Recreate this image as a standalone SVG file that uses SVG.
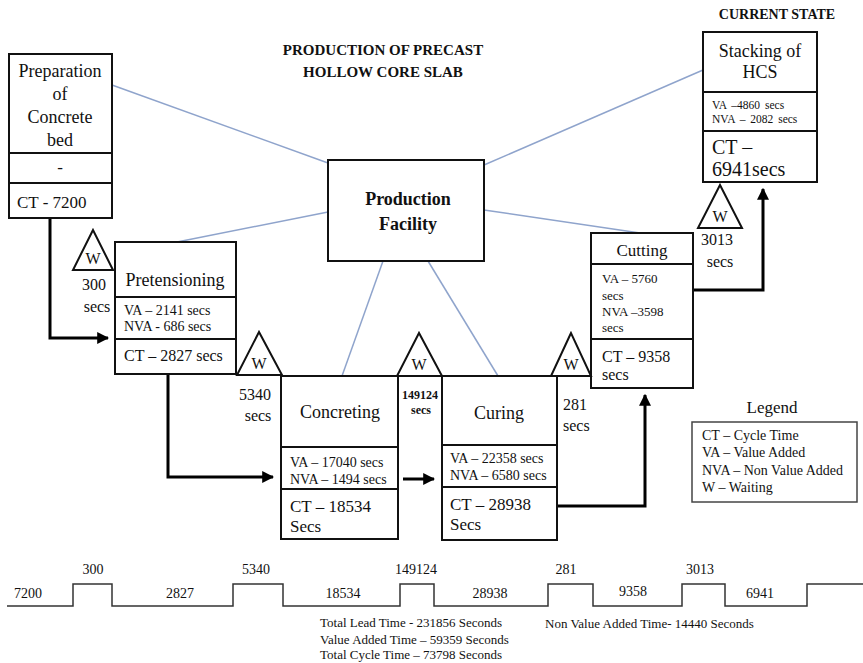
<svg xmlns="http://www.w3.org/2000/svg" width="863" height="663" viewBox="0 0 863 663">
  <style>
    text { font-family: "Liberation Serif", "Times New Roman", serif; fill: #111; }
    .box { fill: #fff; stroke: #111; stroke-width: 2; }
    .div { stroke: #111; stroke-width: 2; }
    .tri { fill: #fff; stroke: #111; stroke-width: 2; stroke-linejoin: miter; }
    .link { stroke: #8fa4cc; stroke-width: 1.5; fill: none; }
    .flow { stroke: #000; stroke-width: 3; fill: none; }
    .t18 { font-size: 18px; }
    .t17 { font-size: 17px; }
    .t16 { font-size: 16px; }
    .t14 { font-size: 14px; }
    .t13 { font-size: 13px; }
    .t11 { font-size: 11.5px; word-spacing: 2px; }
    .c { text-anchor: middle; }
    .b { font-weight: bold; }
  </style>
  <defs>
    <marker id="arr" viewBox="0 0 10 10" refX="9" refY="5" markerWidth="4" markerHeight="4" orient="auto" markerUnits="strokeWidth">
      <path d="M0 0 L10 5 L0 10 Z" fill="#000"/>
    </marker>
  </defs>

  <rect width="863" height="663" fill="#fff"/>

  <!-- title -->
  <g id="title">
    <text class="b c" x="383" y="55" font-size="15">PRODUCTION  OF PRECAST</text>
    <text class="b c" x="383" y="77" font-size="15">HOLLOW  CORE SLAB</text>
    <text class="b c" x="777" y="19" font-size="14">CURRENT STATE</text>
  </g>

  <!-- links from the production facility -->
  <g id="connectors">
    <line class="link" x1="112" y1="85" x2="328" y2="163"/>
    <line class="link" x1="328" y1="212" x2="177" y2="242"/>
    <line class="link" x1="383" y1="261" x2="342" y2="376"/>
    <line class="link" x1="428" y1="261" x2="498" y2="376"/>
    <line class="link" x1="484" y1="210" x2="640" y2="233"/>
    <line class="link" x1="484" y1="165" x2="703" y2="70"/>
    <!-- material flow -->
    <path class="flow" d="M50 218 V338 H108" marker-end="url(#arr)"/>
    <path class="flow" d="M168 374 V477 H273" marker-end="url(#arr)"/>
    <path class="flow" d="M403 479 H434" marker-end="url(#arr)"/>
    <path class="flow" d="M557 506 H645 V395" marker-end="url(#arr)"/>
    <path class="flow" d="M693 290 H763 V189" marker-end="url(#arr)"/>
    <line class="div" x1="236" y1="375" x2="282" y2="375"/>
  </g>

  <!-- production facility -->
  <g id="facility">
    <rect class="box" x="328" y="160" width="156" height="101"/>
    <text class="b c t18" x="408" y="205">Production</text>
    <text class="b c t18" x="408" y="230">Facility</text>
  </g>

  <!-- process boxes -->
  <g id="preparation">
    <rect class="box" x="9" y="54" width="103" height="164"/>
    <line class="div" x1="9" y1="153" x2="112" y2="153"/>
    <line class="div" x1="9" y1="183" x2="112" y2="183"/>
    <text class="c t18" x="60" y="77">Preparation</text>
    <text class="c t18" x="60" y="100">of</text>
    <text class="c t18" x="60" y="123">Concrete</text>
    <text class="c t18" x="60" y="146">bed</text>
    <text class="c t17" x="60" y="173">-</text>
    <text class="t17" x="17" y="208">CT - 7200</text>
  </g>

  <g id="pretensioning">
    <rect class="box" x="115" y="242" width="121" height="132"/>
    <line class="div" x1="115" y1="297" x2="236" y2="297"/>
    <line class="div" x1="115" y1="339" x2="236" y2="339"/>
    <text class="c t18" x="175" y="286">Pretensioning</text>
    <text class="t14" x="124" y="315">VA – 2141 secs</text>
    <text class="t14" x="124" y="331">NVA -  686 secs</text>
    <text class="t16" x="124" y="361">CT – 2827 secs</text>
  </g>

  <g id="concreting">
    <rect class="box" x="281" y="376" width="117" height="163"/>
    <line class="div" x1="281" y1="447" x2="398" y2="447"/>
    <line class="div" x1="281" y1="489" x2="398" y2="489"/>
    <text class="c t18" x="340" y="418">Concreting</text>
    <text class="t14" x="290" y="467">VA – 17040 secs</text>
    <text class="t14" x="290" y="484">NVA – 1494 secs</text>
    <text class="t17" x="290" y="512">CT – 18534</text>
    <text class="t17" x="290" y="532">Secs</text>
  </g>

  <g id="curing">
    <rect class="box" x="442" y="376" width="115" height="164"/>
    <line class="div" x1="442" y1="445" x2="557" y2="445"/>
    <line class="div" x1="442" y1="487" x2="557" y2="487"/>
    <text class="c t18" x="499" y="419">Curing</text>
    <text class="t14" x="450" y="463">VA – 22358 secs</text>
    <text class="t14" x="450" y="480">NVA – 6580 secs</text>
    <text class="t17" x="450" y="510">CT – 28938</text>
    <text class="t17" x="450" y="530">Secs</text>
  </g>

  <g id="cutting">
    <rect class="box" x="591" y="233" width="102" height="155"/>
    <line class="div" x1="591" y1="264" x2="693" y2="264"/>
    <line class="div" x1="591" y1="339" x2="693" y2="339"/>
    <text class="c t17" x="642" y="256">Cutting</text>
    <text class="t13" x="602" y="283">VA – 5760</text>
    <text class="t13" x="602" y="300">secs</text>
    <text class="t13" x="602" y="316">NVA –3598</text>
    <text class="t13" x="602" y="332">secs</text>
    <text class="t16" x="602" y="362">CT – 9358</text>
    <text class="t16" x="602" y="380">secs</text>
  </g>

  <g id="stacking">
    <rect class="box" x="703" y="32" width="114" height="150"/>
    <line class="div" x1="703" y1="92" x2="817" y2="92"/>
    <line class="div" x1="703" y1="131" x2="817" y2="131"/>
    <text class="c t18" x="760" y="57">Stacking  of</text>
    <text class="c t18" x="760" y="78">HCS</text>
    <text class="t11" x="712" y="109">VA –4860 secs</text>
    <text class="t11" x="712" y="123">NVA – 2082 secs</text>
    <text x="712" y="154" font-size="20">CT –</text>
    <text x="712" y="176" font-size="20">6941secs</text>
  </g>

  <!-- waiting triangles -->
  <g id="wait-300">
    <polygon class="tri" points="93,230 73,270 113,270"/>
    <text class="c t16" x="93" y="264">W</text>
    <text class="c t16" x="94" y="290">300</text>
    <text class="c t16" x="97" y="312">secs</text>
  </g>
  <g id="wait-5340">
    <polygon class="tri" points="259,332 237,375 282,375"/>
    <text class="c t16" x="259" y="369">W</text>
    <text class="c t16" x="255" y="400">5340</text>
    <text class="c t16" x="258" y="421">secs</text>
  </g>
  <g id="wait-149124">
    <polygon class="tri" points="419,333 397,376 442,376"/>
    <text class="c t16" x="419" y="370">W</text>
    <text class="c b" x="420" y="399" font-size="12">149124</text>
    <text class="c b" x="421" y="414" font-size="12">secs</text>
  </g>
  <g id="wait-281">
    <polygon class="tri" points="571,333 551,376 591,376"/>
    <text class="c t16" x="571" y="370">W</text>
    <text class="t16" x="563" y="410">281</text>
    <text class="t16" x="563" y="431">secs</text>
  </g>
  <g id="wait-3013">
    <polygon class="tri" points="720,185 698,228 742,228"/>
    <text class="c t16" x="720" y="222">W</text>
    <text class="c t16" x="717" y="245">3013</text>
    <text class="c t16" x="720" y="267">secs</text>
  </g>

  <!-- legend -->
  <g id="legend">
    <text class="c t17" x="772" y="413">Legend</text>
    <rect x="692" y="422" width="165" height="80" fill="#fff" stroke="#444" stroke-width="1.5"/>
    <text class="t14" x="702" y="440">CT – Cycle Time</text>
    <text class="t14" x="702" y="457">VA – Value Added</text>
    <text class="t14" x="702" y="475">NVA – Non Value Added</text>
    <text class="t14" x="702" y="492">W – Waiting</text>
  </g>

  <!-- timeline -->
  <g id="timeline">
    <path d="M7 606 H73 V584 H112 V606 H233 V584 H283 V606 H400 V584 H434 V606 H548 V584 H593 V606 H682 V584 H725 V606 H807 V584 H863" fill="none" stroke="#333" stroke-width="1.5"/>
    <text class="c t14" x="28" y="598">7200</text>
    <text class="c t14" x="93" y="574">300</text>
    <text class="c t14" x="180" y="598">2827</text>
    <text class="c t14" x="256" y="574">5340</text>
    <text class="c t14" x="343" y="598">18534</text>
    <text class="c t14" x="416" y="574">149124</text>
    <text class="c t14" x="490" y="598">28938</text>
    <text class="c t14" x="566" y="574">281</text>
    <text class="c t14" x="633" y="596">9358</text>
    <text class="c t14" x="700" y="574">3013</text>
    <text class="c t14" x="760" y="598">6941</text>
    <text class="t13" x="320" y="627">Total Lead Time - 231856 Seconds</text>
    <text class="t13" x="320" y="644">Value Added Time –  59359 Seconds</text>
    <text class="t13" x="320" y="659">Total Cycle Time – 73798 Seconds</text>
    <text class="t13" x="545" y="628">Non Value Added Time- 14440 Seconds</text>
  </g>
</svg>
